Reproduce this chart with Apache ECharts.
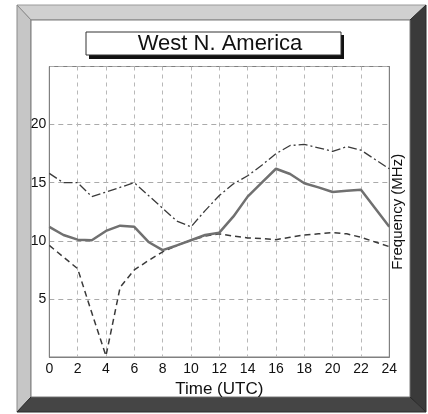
<!DOCTYPE html>
<html>
<head>
<meta charset="utf-8">
<script src="https://cdn.jsdelivr.net/npm/echarts@6/dist/echarts.min.js"></script>
<style>
html,body{margin:0;padding:0;background:#fff;}
#chart{width:428px;height:414px;}
</style>
</head>
<body>
<div id="chart"></div>
<script>
const titleText = 'West N. America';
const xName = 'Time (UTC)';
const yName = 'Frequency (MHz)';
const hours = [0,1,2,3,4,5,6,7,8,9,10,11,12,13,14,15,16,17,18,19,20,21,22,23,24];
const solidSeries = [11.2,10.5,10.1,10.05,10.85,11.3,11.2,9.9,9.2,9.6,10.05,10.5,10.7,12.1,13.8,15.0,16.2,15.75,14.95,14.6,14.2,14.3,14.4,12.8,11.2];
const upperSeries = [15.8,15.0,15.0,13.8,14.2,14.6,15.0,13.9,12.8,11.7,11.2,12.6,13.9,14.9,15.6,16.5,17.5,18.2,18.3,18.0,17.7,18.1,17.8,17.0,16.2];
const lowerSeries = [9.6,8.6,7.6,3.8,0.1,6.0,7.5,8.3,9.05,9.6,10.05,10.4,10.6,10.4,10.25,10.2,10.1,10.3,10.5,10.6,10.7,10.6,10.3,9.9,9.5];
const yTickLabels = [5,10,15,20];
const xTickLabels = [0,2,4,6,8,10,12,14,16,18,20,22,24];

const pair = arr => hours.map((h,i)=>[h,arr[i]]);
const FONT = '"Liberation Sans", Arial, sans-serif';

const chart = echarts.init(document.getElementById('chart'), null, {renderer:'canvas'});
chart.setOption({
  animation:false,
  backgroundColor:'#ffffff',
  graphic:[
    {type:'polygon', z:-10, shape:{points:[[17,5],[426,5],[410,20],[31,20]]}, style:{fill:'#d0d0d0', stroke:'#9a9a9a', lineWidth:1}},
    {type:'polygon', z:-10, shape:{points:[[17,5],[31,20],[31,397],[17,412]]}, style:{fill:'#c6c6c6', stroke:'#8a8a8a', lineWidth:1}},
    {type:'polygon', z:-10, shape:{points:[[426,5],[426,412],[410,397],[410,20]]}, style:{fill:'#3a3a3a', stroke:'#2a2a2a', lineWidth:1}},
    {type:'polygon', z:-10, shape:{points:[[17,412],[426,412],[410,397],[31,397]]}, style:{fill:'#454545', stroke:'#2a2a2a', lineWidth:1}},
    {type:'rect', z:-9, shape:{x:31,y:20,width:379,height:377}, style:{fill:'#ffffff', stroke:'#7a7a7a', lineWidth:1}},
    {type:'rect', z:5, shape:{x:89,y:35,width:255,height:24}, style:{fill:'#111'}},
    {type:'rect', z:6, shape:{x:86,y:32,width:255,height:23}, style:{fill:'#ffffff', stroke:'#333', lineWidth:1}},
    {type:'text', z:7, x:220, y:44, style:{text:titleText, font:'22px "Liberation Sans", Arial, sans-serif', fill:'#111', align:'center', verticalAlign:'middle'}}
  ],
  grid:{left:49.3, right:38.7, top:66.5, bottom:57, containLabel:false, show:true, borderColor:'#808080', borderWidth:1, backgroundColor:'transparent'},
  xAxis:{
    type:'value', min:0, max:24, interval:2,
    name:xName, nameLocation:'middle', nameGap:20,
    nameTextStyle:{fontFamily:FONT, fontSize:17, color:'#111'},
    axisLine:{show:true, lineStyle:{color:'#808080', width:1}},
    axisTick:{show:false},
    axisLabel:{margin:5, fontFamily:FONT, fontSize:14, color:'#111',
      formatter:v=> xTickLabels.includes(v) ? String(v) : ''},
    splitLine:{show:true, lineStyle:{color:'#b8b8b8', type:[4,4], width:1}}
  },
  yAxis:[{
    type:'value', min:0, max:25, interval:5, position:'left',
    axisLine:{show:true, lineStyle:{color:'#808080', width:1}},
    axisTick:{show:false},
    axisLabel:{margin:3, fontFamily:FONT, fontSize:14, color:'#111',
      formatter:v=> yTickLabels.includes(v) ? String(v) : ''},
    splitLine:{show:true, lineStyle:{color:'#aaaaaa', type:[5,4], width:1}}
  },{
    type:'value', min:0, max:25, interval:5, position:'right',
    name:yName, nameLocation:'middle', nameGap:1, nameRotate:90,
    nameTextStyle:{fontFamily:FONT, fontSize:15, color:'#111'},
    axisLine:{show:true, lineStyle:{color:'#808080', width:1}},
    axisTick:{show:false}, axisLabel:{show:false}, splitLine:{show:false}
  }],
  series:[
    {type:'line', data:pair(lowerSeries), symbol:'none', z:3,
      lineStyle:{color:'#3a3a3a', width:1.5, type:[6,4]}},
    {type:'line', data:pair(upperSeries), symbol:'none', z:3,
      lineStyle:{color:'#3a3a3a', width:1.3, type:[9,3,2,3]}},
    {type:'line', data:pair(solidSeries), symbol:'none', z:4,
      lineStyle:{color:'#707070', width:2.5, type:'solid'}}
  ]
});
</script>
</body>
</html>
